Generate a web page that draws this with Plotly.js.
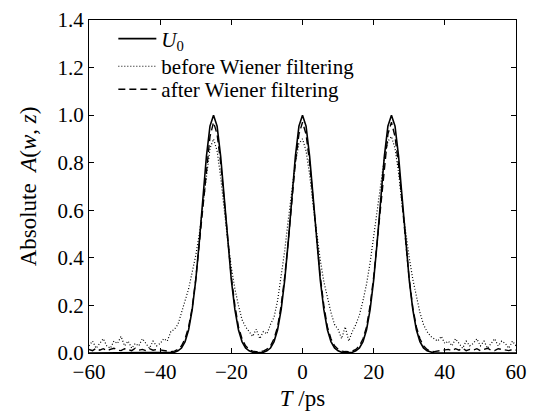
<!DOCTYPE html>
<html><head><meta charset="utf-8">
<script src="https://cdn.plot.ly/plotly-3.0.1.min.js"></script>
<style>html,body{margin:0;padding:0;background:#fff}#chart{width:541px;height:420px}</style>
</head><body><div id="chart"></div>
<script>
// Time axis T (ps)
var T = [-60,-59,-58,-57,-56,-55,-54,-53,-52,-51,-50,-49,-48,-47,-46,-45,-44,-43,-42,-41,
-40,-39,-38,-37,-36,-35,-34,-33,-32,-31,-30,-29,-28,-27,-26,-25,-24,-23,-22,-21,
-20,-19,-18,-17,-16,-15,-14,-13,-12,-11,-10,-9,-8,-7,-6,-5,-4,-3,-2,-1,
0,1,2,3,4,5,6,7,8,9,10,11,12,13,14,15,16,17,18,19,
20,21,22,23,24,25,26,27,28,29,30,31,32,33,34,35,36,37,38,39,
40,41,42,43,44,45,46,47,48,49,50,51,52,53,54,55,56,57,58,59,60];

// U0 (solid)
var U0 = [0,0,0,0,0,0,0,0,0,0,0,0,0,0,0,0,0,0,0,0,
0,0,0,0,0.003,0.009,0.021,0.048,0.098,0.182,0.306,0.468,0.653,0.827,0.954,1.0,0.954,0.827,0.653,0.468,
0.306,0.182,0.098,0.048,0.021,0.009,0.003,0.001,0.001,0.003,0.009,0.021,0.048,0.098,0.182,0.306,0.468,0.653,0.827,0.954,
1.0,0.954,0.827,0.653,0.468,0.306,0.182,0.098,0.048,0.021,0.009,0.003,0.001,0.001,0.003,0.009,0.021,0.048,0.098,0.182,
0.306,0.468,0.653,0.827,0.954,1.0,0.954,0.827,0.653,0.468,0.306,0.182,0.098,0.048,0.021,0.009,0.003,0,0,0,
0,0,0,0,0,0,0,0,0,0,0,0,0,0,0,0,0,0,0,0,0];

// before Wiener filtering (dotted)
var before = [0.03,0.05,0.02,0.04,0.06,0.03,0.02,0.05,0.04,0.07,0.03,0.05,0.02,0.04,0.03,0.06,0.04,0.02,0.05,0.03,
0.04,0.06,0.05,0.09,0.10,0.12,0.17,0.22,0.27,0.34,0.41,0.50,0.62,0.75,0.86,0.90,0.85,0.74,0.60,0.47,
0.36,0.27,0.20,0.14,0.11,0.09,0.07,0.10,0.06,0.09,0.08,0.12,0.15,0.22,0.32,0.43,0.56,0.69,0.80,0.88,
0.90,0.85,0.75,0.62,0.50,0.39,0.30,0.23,0.17,0.12,0.10,0.06,0.11,0.05,0.09,0.12,0.16,0.22,0.29,0.38,
0.49,0.60,0.72,0.82,0.89,0.91,0.86,0.76,0.62,0.50,0.40,0.31,0.24,0.17,0.12,0.09,0.07,0.06,0.05,0.07,
0.04,0.05,0.03,0.06,0.04,0.02,0.05,0.03,0.04,0.06,0.03,0.05,0.02,0.04,0.06,0.03,0.05,0.04,0.02,0.05,0.03];

// after Wiener filtering (dashed)
var after = [0.015,0.01,0.02,0.012,0.018,0.01,0.015,0.02,0.012,0.01,0.018,0.015,0.01,0.02,0.012,0.015,0.01,0.018,0.012,0.015,
0.012,0.01,0.008,0.006,0.008,0.015,0.03,0.06,0.11,0.19,0.31,0.46,0.63,0.79,0.91,0.97,0.92,0.80,0.64,0.47,
0.32,0.20,0.11,0.06,0.03,0.015,0.008,0.005,0.006,0.008,0.016,0.03,0.06,0.11,0.20,0.32,0.47,0.64,0.80,0.92,
0.97,0.92,0.80,0.64,0.47,0.32,0.20,0.11,0.06,0.03,0.016,0.008,0.006,0.005,0.008,0.015,0.03,0.06,0.11,0.20,
0.32,0.47,0.64,0.80,0.92,0.97,0.91,0.79,0.63,0.46,0.31,0.19,0.11,0.06,0.03,0.015,0.008,0.006,0.008,0.01,
0.012,0.015,0.01,0.018,0.012,0.02,0.01,0.015,0.012,0.018,0.01,0.015,0.02,0.012,0.01,0.018,0.015,0.012,0.01,0.015,0.012];

var seriesNames = ['<i>U</i><sub>0</sub>', 'before Wiener filtering', 'after Wiener filtering'];
var xTicks = [-60,-40,-20,0,20,40,60];
var yTicks = [0,0.2,0.4,0.6,0.8,1.0,1.2,1.4];

var FONT = '"Liberation Serif", "Times New Roman", serif';

var traces = [
  {x:T, y:U0, mode:'lines', name:seriesNames[0], legend:'legend', line:{color:'#000', width:1.6, dash:'solid'}},
  {x:T, y:before, mode:'lines', name:seriesNames[1], legend:'legend2', line:{color:'#000', width:1.2, dash:'1px,2px'}},
  {x:T, y:after, mode:'lines', name:seriesNames[2], legend:'legend3', line:{color:'#000', width:1.4, dash:'7px,4px'}}
];

function leg(y){
  return {x:0.057, y:y, xanchor:'left', yanchor:'middle', bgcolor:'rgba(0,0,0,0)', borderwidth:0,
    font:{family:FONT, size:21, color:'#000'}, itemwidth:38};
}

var layout = {
  width:541, height:420,
  margin:{l:89, r:25, t:20, b:67},
  paper_bgcolor:'#fff', plot_bgcolor:'#fff',
  font:{family:FONT, color:'#000', size:21},
  showlegend:true,
  legend:leg(0.943),
  legend2:leg(0.860),
  legend3:leg(0.791),
  xaxis:{range:[-60,60], tickvals:xTicks, ticks:'inside', ticklen:5, tickcolor:'#000',
    showline:true, linecolor:'#000', linewidth:1, mirror:'ticks', showgrid:false, zeroline:false,
    tickfont:{family:FONT, size:21},
    title:{text:'<i>T</i> /ps', font:{family:FONT, size:23}, standoff:6}},
  yaxis:{range:[0,1.4], tickvals:yTicks, tickformat:'.1f', ticks:'inside', ticklen:5, tickcolor:'#000',
    showline:true, linecolor:'#000', linewidth:1, mirror:'ticks', showgrid:false, zeroline:false,
    tickfont:{family:FONT, size:21},
    title:{text:'Absolute  <i>A</i>(<i>w</i>, <i>z</i>)', font:{family:FONT, size:23}, standoff:14}}
};

Plotly.newPlot('chart', traces, layout, {displayModeBar:false, staticPlot:true});
</script>
</body></html>
